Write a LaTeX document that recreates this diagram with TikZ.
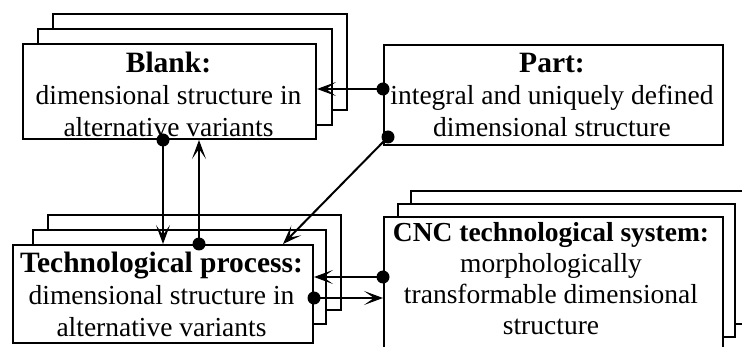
\documentclass[tikz,border=0pt]{standalone}
\usepackage{fontspec}
\setmainfont{Liberation Serif}
\usetikzlibrary{arrows.meta}
\begin{document}
\begin{tikzpicture}[x=1pt, y=-1pt, line width=2pt,
  box/.style={draw, fill=white, inner sep=0pt, anchor=north west},
  label/.style={align=center, inner sep=0pt, font=\fontsize{27.5}{32}\selectfont},
  conn/.style={-{Stealth[length=19pt, width=14pt, inset=10pt, line width=1.4pt]}},
  dot/.style={fill=black}
]
\newcommand{\ttl}[1]{{\fontsize{29.5}{32}\selectfont\bfseries #1}}
\useasboundingbox (0,0) rectangle (742,347);

% Blank: stacked variants
\node[box, minimum width=294pt, minimum height=96pt] (blankC) at (52,13) {};
\node[box, minimum width=294pt, minimum height=96pt] (blankB) at (37,28) {};
\node[box, minimum width=293pt, minimum height=95pt] (blank) at (22,43) {};
\node[label] (blanktxt) at (168.5,94) {\ttl{Blank:}\\dimensional structure in\\alternative variants};

% Part
\node[box, minimum width=339pt, minimum height=100pt] (part) at (383,44) {};
\node[label] (parttxt) at (552,95) {\ttl{Part:}\\integral and uniquely defined\\dimensional structure};

% Technological process: stacked variants
\node[box, minimum width=293pt, minimum height=95pt] (techC) at (47,214) {};
\node[box, minimum width=293pt, minimum height=94pt] (techB) at (32,229) {};
\node[box, minimum width=300pt, minimum height=98pt] (tech) at (12,244) {};
\node[label] (techtxt) at (161.5,294) {\ttl{Technological process:}\\dimensional structure in\\alternative variants};

% CNC technological system: stacked variants
\node[box, minimum width=339pt, minimum height=133pt] (cncC) at (410,190) {};
\node[box, minimum width=337pt, minimum height=133pt] (cncB) at (397,203) {};
\node[box, minimum width=339pt, minimum height=133pt] (cnc) at (383,216) {};
\node[label, font=\fontsize{27.5}{31}\selectfont] (cnctxt) at (551,279)
  {\textbf{CNC technological system:}\\morphologically\\transformable dimensional\\structure};

% Connectors
\coordinate (partlow) at (388,137);
\coordinate (techin) at (283,244);

\draw[conn] (part.west |- 0,89) -- (blank.east |- 0,89);
\fill[dot] (part.west |- 0,89) circle (6.5pt);

\draw[conn] (partlow) -- (techin);
\fill[dot] (partlow) circle (6.5pt);

\draw[conn] (blank.south -| 163,0) -- (tech.north -| 163,0);
\fill[dot] (blank.south -| 163,0) circle (6.5pt);

\draw[conn] (tech.north -| 199,0) -- (blank.south -| 199,0);
\fill[dot] (tech.north -| 199,0) circle (6.5pt);

\draw[conn] (cnc.west |- 0,277) -- (tech.east |- 0,277);
\fill[dot] (cnc.west |- 0,277) circle (6.5pt);

\draw[conn] (tech.east |- 0,298) -- (cnc.west |- 0,298);
\fill[dot] (tech.east |- 0,298) circle (6.5pt);
\end{tikzpicture}
\end{document}
